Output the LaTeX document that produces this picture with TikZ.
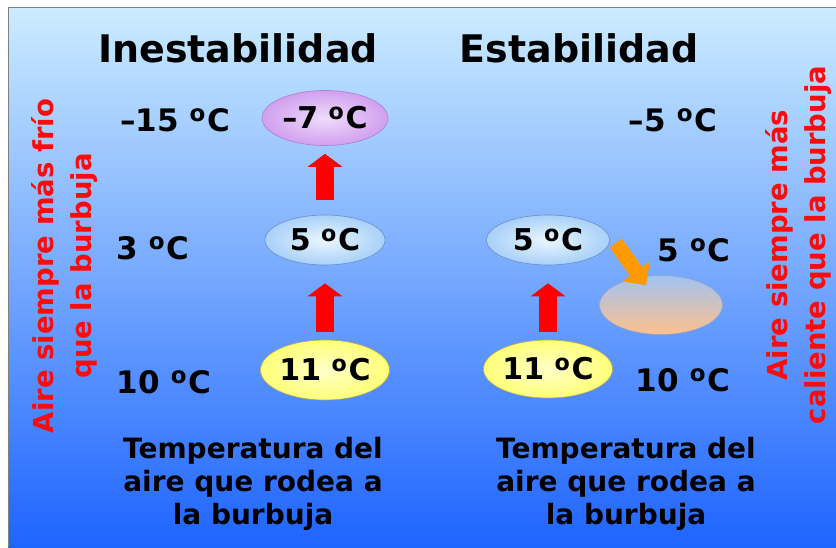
\documentclass[tikz,border=0pt]{standalone}
\usepackage{fontspec}
\setmainfont{DejaVu Sans}
\usetikzlibrary{arrows.meta,shapes.geometric}
\definecolor{bgtop}{RGB}{204,236,255}
\definecolor{bgmid}{RGB}{150,190,245}
\definecolor{bgbot}{RGB}{30,100,255}
\definecolor{txtred}{RGB}{255,10,10}
\definecolor{arrred}{RGB}{255,0,0}
\definecolor{arrorange}{RGB}{255,153,0}
\newcommand{\dgc}{ \raisebox{0.31em}{\fontsize{0.74em}{0.74em}\selectfont o}\kern0.06em C}
\tikzset{
  title/.style={font=\bfseries\fontsize{38}{44}\selectfont, inner sep=0pt},
  temp/.style={font=\bfseries\fontsize{31}{38}\selectfont, inner sep=0pt},
  bubble/.style={ellipse, inner sep=0pt, font=\bfseries\fontsize{30}{36}\selectfont, line width=0.6pt},
  purplebub/.style={bubble, draw={rgb,255:red,170;green,130;blue,210}, inner color={rgb,255:red,240;green,220;blue,252}, outer color={rgb,255:red,208;green,160;blue,238}},
  bluebub/.style={bubble, draw={rgb,255:red,110;green,140;blue,200}, inner color={rgb,255:red,235;green,247;blue,255}, outer color={rgb,255:red,168;green,208;blue,248}},
  yellowbub/.style={bubble, draw={rgb,255:red,180;green,170;blue,90}, inner color={rgb,255:red,255;green,255;blue,200}, outer color={rgb,255:red,255;green,255;blue,120}},
  redarrow/.style={draw=arrred, line width=18pt, -{Triangle[width=34pt,length=13pt]}},
  orarrow/.style={draw=arrorange, line width=15pt, -{Triangle[width=33pt,length=17pt]}},
  bottomtxt/.style={font=\bfseries\fontsize{28}{33}\selectfont, align=center, inner sep=0pt},
  sidetxt/.style={text=txtred, inner sep=0pt, font=\bfseries\fontsize{27.5}{38}\selectfont}
}
\begin{document}
\begin{tikzpicture}[x=1pt,y=-1pt]
\useasboundingbox (0,0) rectangle (836,547);
\fill[white] (0,0) rectangle (836,547);
\shade[top color=bgtop, middle color=bgmid, bottom color=bgbot] (8,7) rectangle (836,547);
\draw[gray, line width=1pt] (8,547) -- (8,7) -- (836,7);

% titles
\node[title] (t1) at (238,48) {Inestabilidad};
\node[title] (t2) at (579,48) {Estabilidad};

% left temperatures
\node[temp] (lm15) at (175,120) {–15\dgc};
\node[temp] (l3) at (153,248) {3\dgc};
\node[temp] (l10) at (164,382) {10\dgc};

% right temperatures
\node[temp] (rm5) at (673,120) {–5\dgc};
\node[temp] (r5l) at (694,250) {5\dgc};
\node[temp] (r10) at (683,380) {10\dgc};

% left bubbles
\node[purplebub, minimum width=126pt, minimum height=55pt] (b7) at (325,118) {–7\dgc};
\node[bluebub, minimum width=120pt, minimum height=50pt] (b5) at (325,240) {5\dgc};
\node[yellowbub, minimum width=124pt, minimum height=60pt] (b11) at (325,370) {11\dgc};

% right bubbles
\node[bluebub, minimum width=123pt, minimum height=50pt] (c5) at (548,240) {5\dgc};
\node[yellowbub, minimum width=123pt, minimum height=58pt] (c11) at (548,369) {11\dgc};
\node[ellipse, minimum width=123pt, minimum height=59pt, draw={rgb,255:red,150;green,165;blue,200}, line width=0.6pt,
  top color={rgb,255:red,160;green,195;blue,242}, bottom color={rgb,255:red,255;green,192;blue,140}] (fade) at (661,305) {};

% arrows
\draw[redarrow, shorten <=15pt, shorten >=8pt] (b5.north) -- (b7.south);
\draw[redarrow, shorten <=8pt, shorten >=18pt] (b11.north) -- (b5.south);
\draw[redarrow, shorten <=8pt, shorten >=18pt] (c11.north) -- (c5.south);
\draw[orarrow] ([shift={(6,3)}]c5.east) -- ([shift={(-15,10)}]fade.north);

% bottom texts
\node[bottomtxt] (bl) at (253,484) {Temperatura del\\aire que rodea a\\la burbuja};
\node[bottomtxt] (br) at (626,484) {Temperatura del\\aire que rodea a\\la burbuja};

% side texts
\node[sidetxt, rotate=90, align=center] (sl) at (64,266) {Aire siempre más frío\\que la burbuja};
\node[sidetxt, rotate=90, align=center] (sr) at (798,245) {Aire siempre más\\caliente que la burbuja};
\end{tikzpicture}
\end{document}
